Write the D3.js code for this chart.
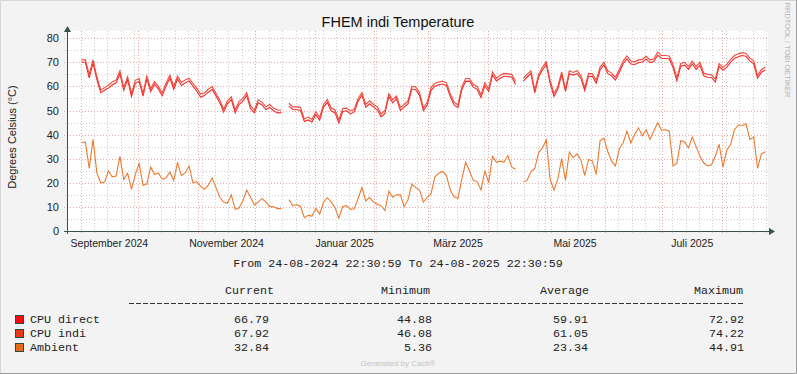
<!DOCTYPE html>
<html>
<head>
<meta charset="utf-8">
<script src="https://cdn.jsdelivr.net/npm/d3@7"></script>
<style>
  body { margin: 0; background: #f3f3f3; }
  svg { display: block; }
</style>
</head>
<body>
<svg id="chart" width="797" height="374"></svg>
<script>
// samples every 2 days, first one 2024-09-01 12:00
const firstSample = new Date(2024, 8, 1, 12, 0, 0);
const stepDays = 2;

const cpuDirect = [
  70, 70, 63.5, 69.8, 62.8, 57.4, 58.4, 59.3, 60.6, 61.5,
  65.2, 58.4, 62.8, 55.8, 61.3, 62.1, 56, 63.1, 57.9, 60.9,
  58.9, 56.1, 60.1, 63.5, 58.8, 63.2, 60.4, 61.5, 62.3, 60.1,
  58, 55.6, 56.2, 57.6, 58.7, 56, 53.2, 49.3, 52.9, 54.5,
  49, 52.5, 53.9, 56.2, 50.7, 49.1, 53.2, 52.3, 50.4, 51.3,
  49.9, 49, 49.1, null, 51.8, 50.4, 50.3, 50.1, 45.4, 46.1,
  45.2, 48.3, 46, 51.4, 53.3, 49.9, 49, 44.88, 49.6, 49.9,
  48.6, 49.4, 53.8, 56.4, 51.3, 52.8, 51.4, 50.3, 47.4, 48.8,
  55.9, 53.2, 54.8, 50.1, 51.4, 52.8, 58.9, 58.6, 56.3, 49.9,
  52.3, 58.4, 60.1, 60.7, 61, 60.4, 55.8, 52.3, 51.2, 58.6,
  62.1, 62.2, 59.7, 58.8, 55.4, 60.3, 57.9, 64.8, 62.3, 63.4,
  64.3, 64, 63.9, 60.8, null, 62.2, 63.8, 65.4, 57.3, 63.9,
  66.8, 69.1, 61.3, 55.8, 58.9, 64.8, 57.9, 65.3, 64.7, 65.3,
  63.4, 58.3, 64.2, 64.1, 61.4, 66.8, 68.9, 65.3, 64.4, 62.6,
  65.8, 69.4, 71.4, 69.3, 69.1, 69.8, 70.1, 71.3, 69.9, 70.3,
  72.92, 71.7, 71.6, 71.5, 67.8, 62.3, 68.4, 68.8, 67.1, 69.3,
  67.1, 68.8, 64.4, 63.8, 63.7, 61.8, 68.3, 66.7, 68, 70.1,
  71.6, 72.3, 72.8, 72.5, 70.6, 69.4, 63.4, 65.9, 66.79
];

const cpuIndi = [
  71, 71, 65, 71, 64, 58.5, 59.5, 60.5, 61.8, 62.7,
  66.5, 59.6, 64, 57, 62.5, 63.3, 57.1, 64.3, 59, 62,
  60, 57.3, 61.3, 64.7, 60, 64.3, 61.6, 62.7, 63.4, 61.3,
  59.2, 56.8, 57.3, 58.8, 59.9, 57.1, 54.4, 50.5, 54, 55.7,
  50.2, 53.7, 55, 57.4, 51.9, 50.2, 54.4, 53.5, 51.5, 52.5,
  51, 50.2, 50.2, null, 53, 51.5, 51.5, 51.3, 46.5, 47.3,
  46.3, 49.5, 47.2, 52.5, 54.5, 51, 50.2, 46.08, 50.8, 51,
  49.8, 50.5, 55, 57.5, 52.5, 54, 52.5, 51.5, 48.5, 50,
  57, 54.4, 56, 51.3, 52.5, 54, 60, 59.8, 57.5, 51,
  53.5, 59.5, 61.3, 61.8, 62.2, 61.5, 57, 53.5, 52.3, 59.8,
  63.3, 63.3, 60.8, 60, 56.5, 61.5, 59, 66, 63.4, 64.6,
  65.4, 65.2, 65, 62, null, 63.3, 65, 66.5, 58.5, 65,
  68, 70.2, 62.5, 57, 60, 66, 59, 66.5, 65.8, 66.5,
  64.5, 59.5, 65.4, 65.2, 62.5, 68, 70, 66.5, 65.5, 63.8,
  67, 70.5, 72.6, 70.5, 70.2, 71, 71.2, 72.5, 71, 71.5,
  74.22, 72.8, 72.8, 72.6, 69, 63.5, 69.5, 70, 68.2, 70.5,
  68.2, 70, 65.5, 65, 64.8, 63, 69.5, 67.8, 69.2, 71.2,
  72.8, 73.5, 74, 73.7, 71.7, 70.6, 64.5, 67, 67.92
];

const ambient = [
  36.7, 36.9, 26, 38, 24, 20, 20.3, 24.9, 22.5, 22.8,
  31, 21.4, 24, 17.3, 23.5, 28, 19, 19.5, 26.5, 23.5,
  24, 21.5, 22, 24.5, 21, 28.5, 23, 24.2, 27, 20,
  20.5, 18.5, 17.3, 19, 22, 18, 14, 12, 11.5, 15,
  9, 9.5, 12.5, 17, 14, 10.8, 12, 13.5, 12, 10.2,
  10, 9.3, 9.3, null, 13, 10.5, 11, 10.2, 5.5, 6.5,
  6.2, 9.5, 7, 12, 13.8, 12, 9.7, 5.36, 10.2, 10.5,
  9, 9.2, 13.5, 18, 12.5, 14, 12, 11, 10.5, 8.5,
  16.5, 14, 15, 15, 10.1, 13, 19.5, 18, 17, 12,
  14, 15.5, 22.5, 24, 24.7, 23, 17, 14.2, 13.5, 21.5,
  28.5, 24.9, 21, 20.5, 17, 25, 20, 31, 28.5, 29,
  28.6, 31.3, 26.5, 25.6, null, 20.3, 21, 24.7, 26, 32.5,
  34.5, 37.8, 21.4, 17, 21.5, 30, 21, 32.8, 30.4, 32,
  29.5, 23, 29.7, 29, 23.5, 37.5, 38.5, 33, 29, 27,
  34, 36.5, 41.5, 36.5, 40, 42.8, 39.5, 42, 38, 41.5,
  44.91, 41.8, 42, 41.5, 27, 28, 37.5, 37, 34.5, 39,
  35, 31.1, 28.2, 27, 27.5, 31, 36, 26.5, 33.5, 36,
  42, 44, 43.8, 44.5, 38, 39, 26, 32, 32.84
];

const seriesNames = ["CPU direct", "CPU indi", "Ambient"];
const seriesColors = ["#f40c12", "#e83a18", "#e46c18"];
const lineColors = ["#f52a2a", "#f04a3a", "#ec7a30"];
const statHeads = ["Current", "Minimum", "Average", "Maximum"];
const statValues = [
  ["66.79", "44.88", "59.91", "72.92"],
  ["67.92", "46.08", "61.05", "74.22"],
  ["32.84", "5.36", "23.34", "44.91"]
];
const yTicks = [0, 10, 20, 30, 40, 50, 60, 70, 80];
const yMinor = [5, 15, 25, 35, 45, 55, 65, 75];
const rangeText = "From 24-08-2024 22:30:59 To 24-08-2025 22:30:59";

const tStart = new Date(2024, 7, 24, 22, 30, 59);
const tEnd = new Date(2025, 7, 24, 22, 30, 59);

const svg = d3.select("#chart");
const W = 797, H = 374;
const pLeft = 67, pRight = 768, pTop = 31, pBottom = 231;
const axisCol = "#34544a";
const sans = "'Liberation Sans', Arial, sans-serif";
const mono = "'Liberation Mono', 'Courier New', monospace";

svg.append("rect").attr("width", W).attr("height", H).attr("fill", "#f3f3f3");
// frame
svg.append("path").attr("d", `M0.5,${H} V0.5 H${W}`).attr("fill", "none").attr("stroke", "#d6d6d6");
svg.append("path").attr("d", `M0,${H - 0.5} H${W - 0.5} V0`).attr("fill", "none").attr("stroke", "#9c9c9c");

const x = d3.scaleTime().domain([tStart, tEnd]).range([pLeft, pRight]);
const y = d3.scaleLinear().domain([0, 80]).range([pBottom, pBottom - 80 * 2.41]);

svg.append("rect").attr("x", pLeft).attr("y", pTop).attr("width", pRight - pLeft).attr("height", pBottom - pTop).attr("fill", "#ffffff");

const grid = svg.append("g").attr("shape-rendering", "crispEdges");
// minor vertical (weekly)
grid.selectAll(".vmin").data(d3.timeSunday.range(tStart, tEnd)).join("line")
  .attr("x1", d => Math.round(x(d)) + 0.5).attr("x2", d => Math.round(x(d)) + 0.5)
  .attr("y1", pTop).attr("y2", pBottom + 2)
  .attr("stroke", "#cfcfcf").attr("stroke-dasharray", "1,2");
// minor horizontal
grid.selectAll(".hmin").data(yMinor).join("line")
  .attr("x1", pLeft - 2).attr("x2", pRight)
  .attr("y1", d => Math.round(y(d)) + 0.5).attr("y2", d => Math.round(y(d)) + 0.5)
  .attr("stroke", "#cfcfcf").attr("stroke-dasharray", "1,2");
// major vertical (monthly)
grid.selectAll(".vmaj").data(d3.timeMonth.range(tStart, tEnd)).join("line")
  .attr("x1", d => Math.round(x(d)) + 0.5).attr("x2", d => Math.round(x(d)) + 0.5)
  .attr("y1", pTop).attr("y2", pBottom + 3)
  .attr("stroke", "#eea4a4").attr("stroke-dasharray", "1,2");
// major horizontal
grid.selectAll(".hmaj").data(yTicks).join("line")
  .attr("x1", pLeft - 3).attr("x2", pRight)
  .attr("y1", d => Math.round(y(d)) + 0.5).attr("y2", d => Math.round(y(d)) + 0.5)
  .attr("stroke", "#eea4a4").attr("stroke-dasharray", "1,2");

// y labels
svg.append("g").selectAll("text").data(yTicks).join("text")
  .attr("x", 59).attr("y", d => y(d) + 4)
  .attr("text-anchor", "end").attr("font-family", sans).attr("font-size", 11)
  .attr("fill", "#222").text(d => d);

// x labels, centred on the month
const deLocale = d3.timeFormatLocale({
  dateTime: "%A, %e. %B %Y, %X", date: "%d.%m.%Y", time: "%H:%M:%S",
  periods: ["AM", "PM"],
  days: ["Sonntag", "Montag", "Dienstag", "Mittwoch", "Donnerstag", "Freitag", "Samstag"],
  shortDays: ["So", "Mo", "Di", "Mi", "Do", "Fr", "Sa"],
  months: ["Januar", "Februar", "März", "April", "Mai", "Juni", "Juli", "August", "September", "Oktober", "November", "Dezember"],
  shortMonths: ["Jan", "Feb", "Mrz", "Apr", "Mai", "Jun", "Jul", "Aug", "Sep", "Okt", "Nov", "Dez"]
});
const monthFmt = deLocale.format("%B %Y");
const labelMonths = d3.timeMonth.every(2).range(tStart, tEnd)
  .filter(d => d3.timeMonth.offset(d, 1) <= tEnd);
svg.append("g").selectAll("text").data(labelMonths).join("text")
  .attr("x", d => (x(d) + x(d3.timeMonth.offset(d, 1))) / 2)
  .attr("y", 247)
  .attr("text-anchor", "middle").attr("font-family", sans).attr("font-size", 10.5)
  .attr("fill", "#222").text(monthFmt);

// series
const dates = cpuDirect.map((_, i) => d3.timeHour.offset(firstSample, i * stepDays * 24));
const line = d3.line().defined(d => d[1] != null).x(d => x(d[0])).y(d => y(d[1]));
[cpuDirect, cpuIndi, ambient].forEach((vals, k) => {
  svg.append("path")
    .attr("d", line(vals.map((v, i) => [dates[i], v])))
    .attr("fill", "none").attr("stroke", lineColors[k]).attr("stroke-width", 1.1);
});

// axes with arrows
svg.append("line").attr("x1", pLeft + 0.5).attr("x2", pLeft + 0.5).attr("y1", pBottom + 3).attr("y2", 30)
  .attr("stroke", axisCol).attr("shape-rendering", "crispEdges");
svg.append("line").attr("x1", pLeft - 3).attr("x2", 770).attr("y1", pBottom + 0.5).attr("y2", pBottom + 0.5)
  .attr("stroke", axisCol).attr("shape-rendering", "crispEdges");
svg.append("path").attr("d", `M${pLeft + 0.5},26 L${pLeft + 4},32 L${pLeft - 3},32 Z`).attr("fill", axisCol);
svg.append("path").attr("d", `M775,${pBottom + 0.5} L769,${pBottom - 3} L769,${pBottom + 4} Z`).attr("fill", axisCol);

// title and axis title
svg.append("text").attr("x", 398).attr("y", 27).attr("text-anchor", "middle")
  .attr("font-family", sans).attr("font-size", 14.5).attr("fill", "#111").text("FHEM indi Temperature");
svg.append("text").attr("transform", "translate(16,137) rotate(-90)").attr("text-anchor", "middle")
  .attr("font-family", sans).attr("font-size", 11).attr("fill", "#222").text("Degrees Celsius (°C)");
svg.append("text").attr("transform", "translate(785,50) rotate(90)").attr("text-anchor", "middle")
  .attr("font-family", sans).attr("font-size", 7.5).attr("fill", "#b4b4b4").text("RRDTOOL / TOBI OETIKER");

// legend
svg.append("text").attr("x", 398).attr("y", 267).attr("text-anchor", "middle")
  .attr("font-family", mono).attr("font-size", 11.7).attr("fill", "#222").text(rangeText);
const colEnds = [274, 430, 589, 743];
const valEnds = [269, 432, 588, 744];
svg.append("g").selectAll("text").data(statHeads).join("text")
  .attr("x", (d, i) => colEnds[i]).attr("y", 294).attr("text-anchor", "end")
  .attr("font-family", mono).attr("font-size", 11.7).attr("fill", "#222").text(d => d);
// separator row of hyphens
svg.append("line").attr("x1", 129).attr("x2", 743).attr("y1", 303.5).attr("y2", 303.5)
  .attr("stroke", "#333").attr("stroke-dasharray", "4.6,2.4").attr("shape-rendering", "crispEdges");

const rows = svg.append("g").selectAll("g").data(seriesNames).join("g")
  .attr("transform", (d, i) => `translate(0,${319 + i * 14})`);
rows.append("rect").attr("x", 15.5).attr("y", -3.5).attr("width", 8).attr("height", 8)
  .attr("fill", (d, i) => seriesColors[i]).attr("stroke", "#2d4a40");
rows.append("text").attr("x", 30).attr("y", 4).attr("font-family", mono).attr("font-size", 11.7)
  .attr("fill", "#222").text(d => d);
rows.each(function (d, i) {
  d3.select(this).selectAll(".v").data(statValues[i]).join("text")
    .attr("x", (v, j) => valEnds[j]).attr("y", 4).attr("text-anchor", "end")
    .attr("font-family", mono).attr("font-size", 11.7).attr("fill", "#222").text(v => v);
});

svg.append("text").attr("x", 398).attr("y", 366).attr("text-anchor", "middle")
  .attr("font-family", sans).attr("font-size", 8).attr("fill", "#c4c4c4").text("Generated by Cacti®");
</script>
</body>
</html>
